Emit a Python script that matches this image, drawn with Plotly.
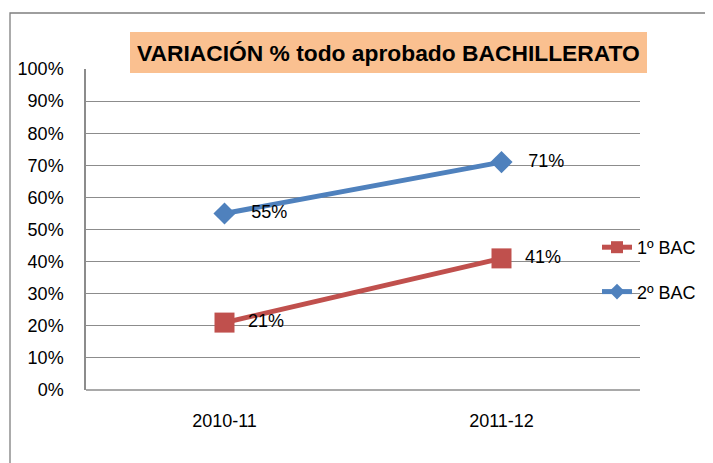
import plotly.graph_objects as go

categories = ["2010-11", "2011-12"]
series_names = ["1º BAC", "2º BAC"]
bac1_values = [0.21, 0.41]
bac2_values = [0.55, 0.71]
bac1_labels = ["21%", "41%"]
bac2_labels = ["55%", "71%"]
y_tickvals = [i / 10 for i in range(11)]
y_ticktext = [f"{i*10}%" for i in range(11)]
title_text = "VARIACIÓN % todo aprobado BACHILLERATO"

# page has an 8px body margin: figure drawn from page pixel (8, 8)
OFF = 8
W, H = 713 - OFF, 463 - OFF
FONT = "Liberation Sans"
GRID = "#8c8c8c"


def px(x):
    return (x - OFF) / W


def py(y):
    return (H - (y - OFF)) / H


fig = go.Figure()
fig.add_trace(go.Scatter(
    x=categories, y=bac1_values, name=series_names[0],
    mode="lines+markers+text", text=bac1_labels, textposition="middle right",
    texttemplate="  %{text}",
    line=dict(color="#C0504D", width=5),
    marker=dict(symbol="square", size=20, color="#C0504D"),
    textfont=dict(family=FONT, size=18, color="#000000"),
    legendgroup="a",
))
fig.add_trace(go.Scatter(
    x=categories, y=bac2_values, name=series_names[1],
    mode="lines+markers+text", text=bac2_labels, textposition="middle right",
    texttemplate="   %{text}",
    line=dict(color="#4F81BD", width=5),
    marker=dict(symbol="diamond", size=17, color="#4F81BD"),
    textfont=dict(family=FONT, size=18, color="#000000"),
    legendgroup="b",
))

x0, x1 = px(86), px(640)
y0, y1 = py(390), py(69)

fig.update_layout(
    width=W, height=H,
    margin=dict(l=0, r=0, t=0, b=0),
    paper_bgcolor="white", plot_bgcolor="white",
    font=dict(family=FONT, size=18, color="#000000"),
    showlegend=True,
    legend=dict(x=px(597), y=py(229), xanchor="left", yanchor="top",
                bgcolor="rgba(0,0,0,0)", tracegroupgap=18, itemsizing="constant",
                font=dict(family=FONT, size=18, color="#000000")),
    xaxis=dict(domain=[x0, x1], type="category", range=[-0.5, 1.5], automargin=False,
               showgrid=False, showline=False, zeroline=False, ticks="",
               ticklabelstandoff=18,
               tickfont=dict(family=FONT, size=18, color="#000000")),
    yaxis=dict(domain=[y0, y1], range=[0, 1], tickvals=y_tickvals, ticktext=y_ticktext,
               automargin=False,
               showgrid=True, gridcolor=GRID, gridwidth=1.3,
               showline=True, linecolor=GRID, linewidth=1.5, zeroline=False,
               ticks="", ticklabelstandoff=17,
               tickfont=dict(family=FONT, size=18, color="#000000")),
)

# outer chart border (extends beyond right/bottom edges)
fig.add_shape(type="rect", xref="paper", yref="paper",
              x0=px(10), x1=1.05, y0=-0.05, y1=py(13),
              line=dict(color="#7f7f7f", width=1.3), layer="below")
# bottom gridline at 0%
fig.add_shape(type="line", xref="paper", yref="paper",
              x0=x0, x1=x1, y0=y0, y1=y0, line=dict(color=GRID, width=1.3))
# title box
fig.add_shape(type="rect", xref="paper", yref="paper",
              x0=px(130), x1=px(647), y0=py(73), y1=py(32),
              fillcolor="#FAC090", line=dict(width=0), layer="above")
fig.add_annotation(text="<b>" + title_text + "</b>", xref="paper", yref="paper",
                   x=px(388.5), y=py(53), showarrow=False,
                   xanchor="center", yanchor="middle",
                   font=dict(family=FONT, size=22.8, color="#000000"))

fig.write_html("out.html")
